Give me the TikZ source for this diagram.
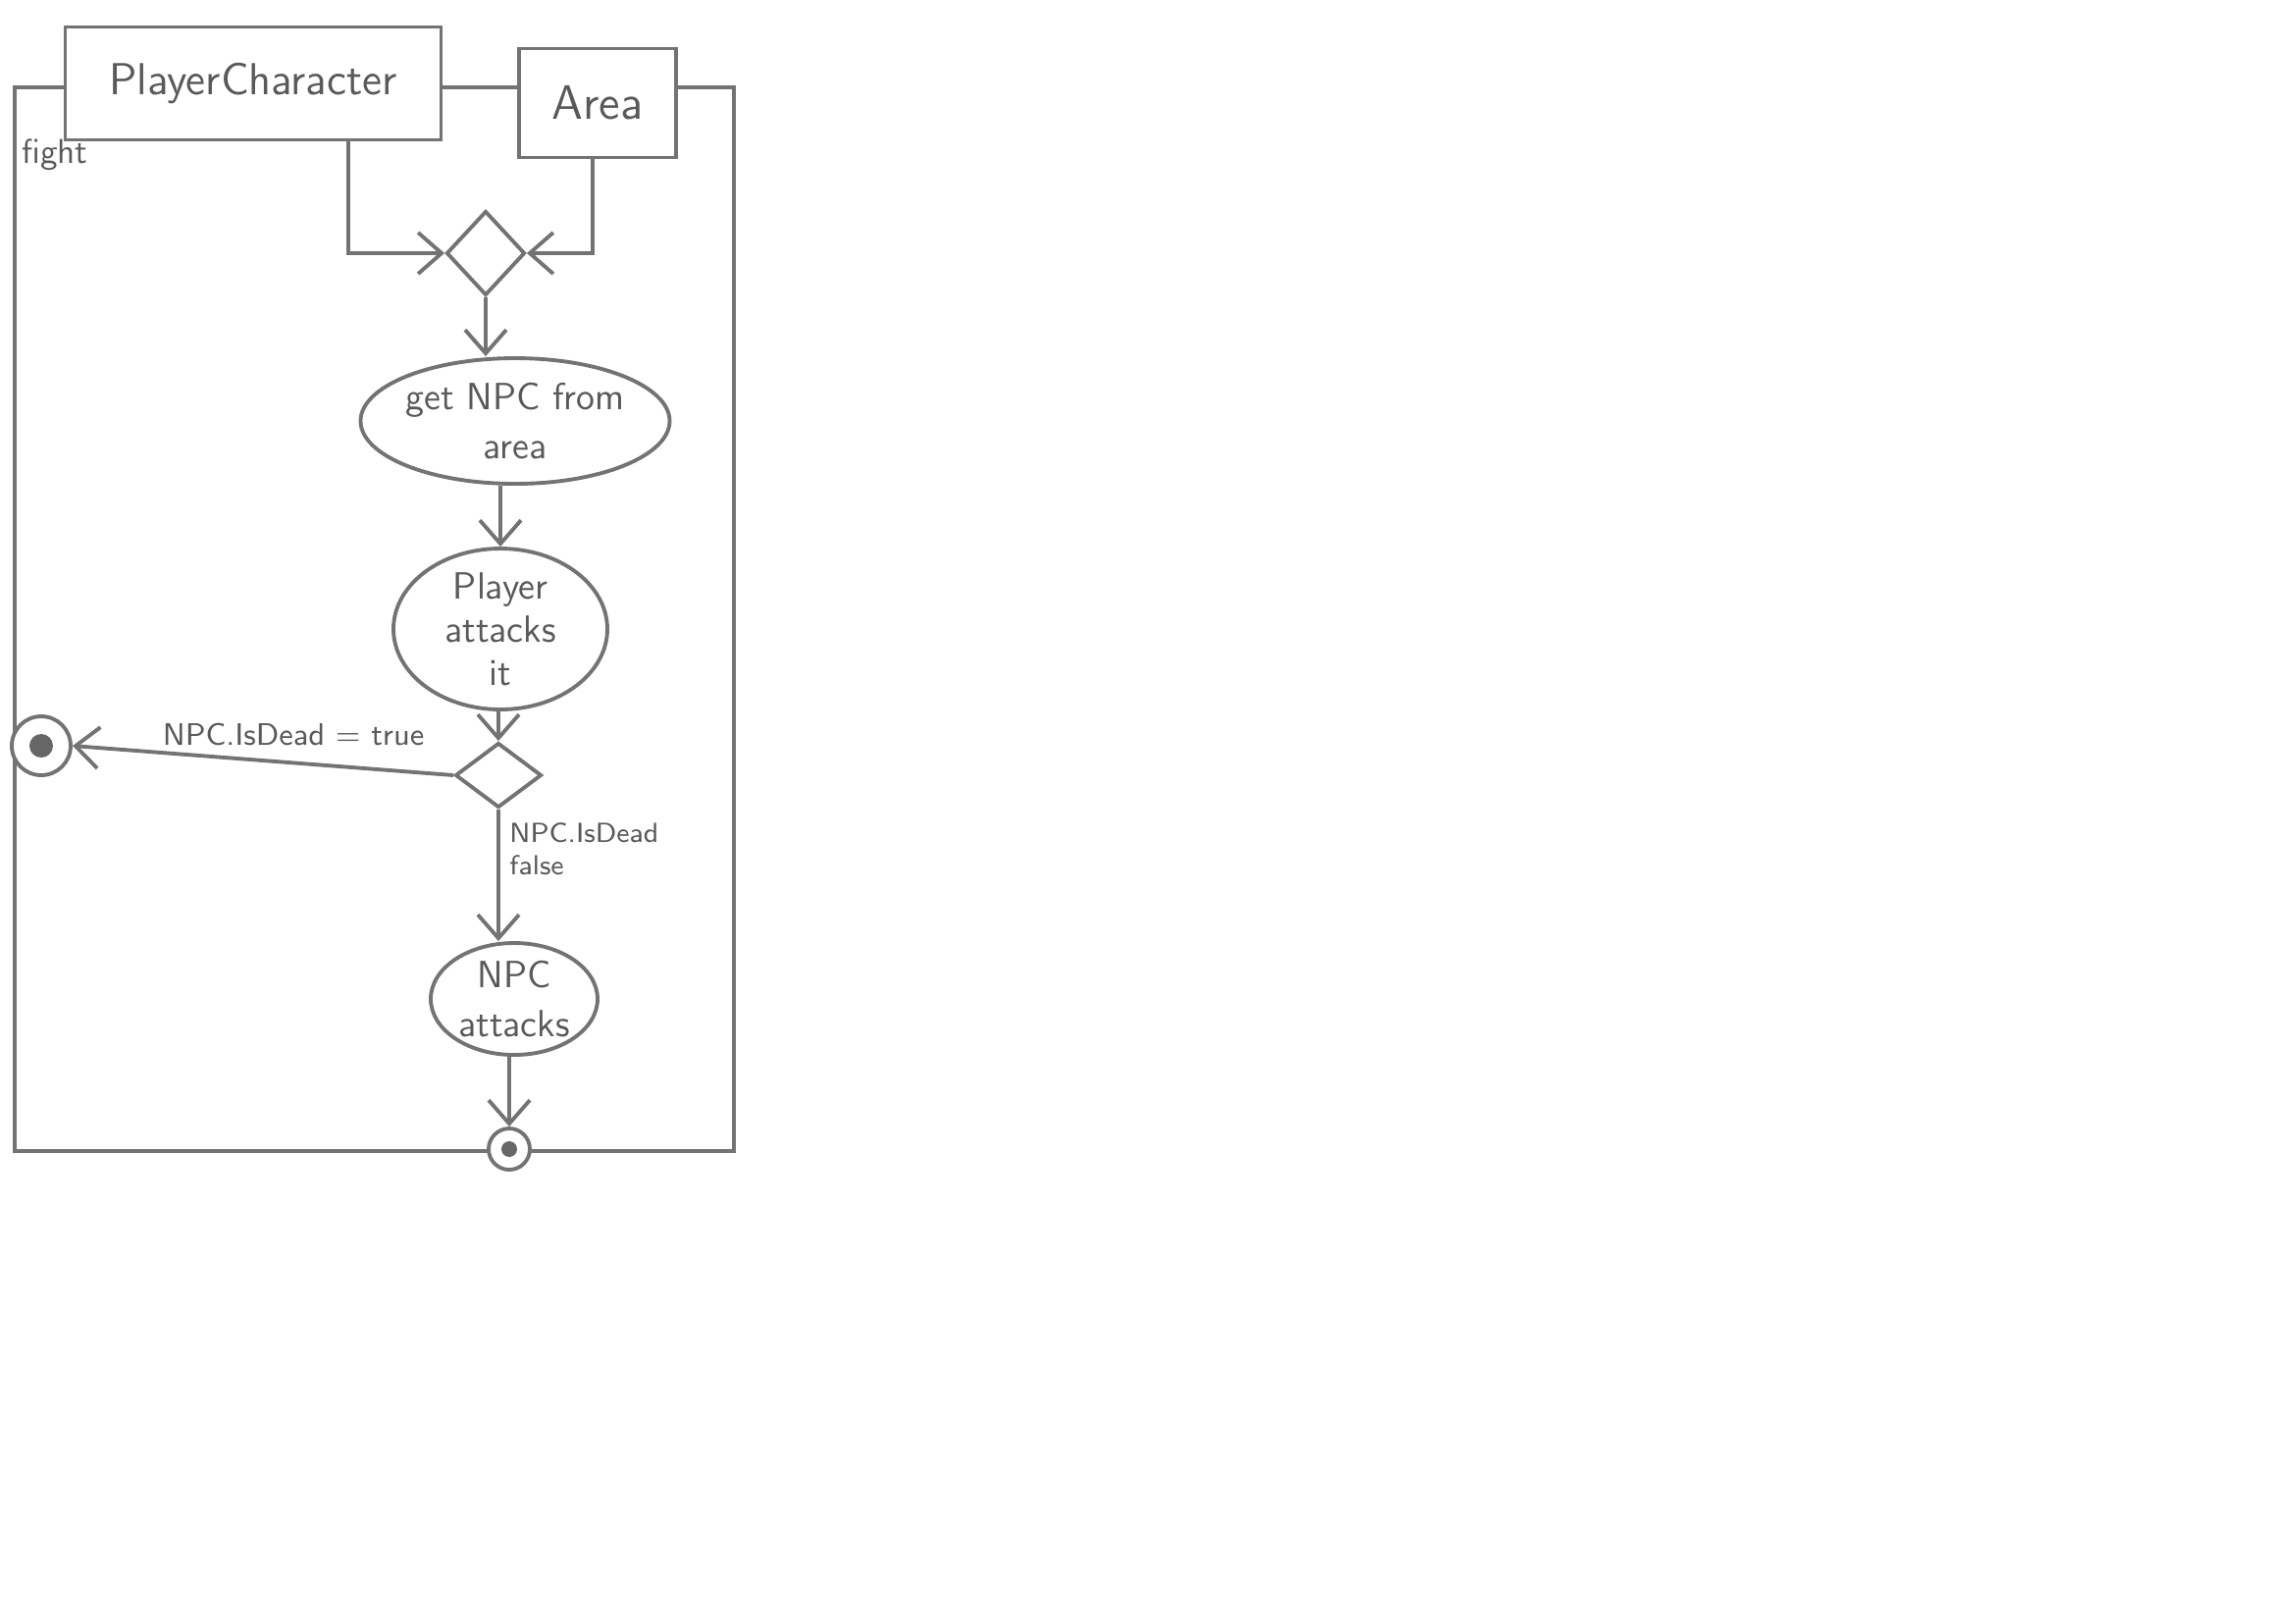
\documentclass[tikz,border=0pt]{standalone}
\usetikzlibrary{shapes.geometric,arrows.meta}
\begin{document}
\begin{tikzpicture}[x=0.1mm,y=-0.1mm,
  pencil/.style={draw=black!55,line width=1.1pt},
  txt/.style={text=black!65,font=\sffamily},
  objbox/.style={pencil,txt,fill=white,rectangle,inner sep=0pt},
  action/.style={pencil,txt,fill=white,ellipse,inner sep=0pt,align=center},
  choice/.style={pencil,fill=white,diamond,inner sep=0pt},
  finalnode/.style={pencil,fill=white,circle,inner sep=0pt},
  flow/.style={pencil,-{Straight Barb[length=2.4mm,width=4.2mm]}},
  guard/.style={txt,inner sep=1pt}]
\useasboundingbox (0,0) rectangle (2338,1654);
% frame of the activity
\node[pencil,rectangle,minimum width=73.3mm,minimum height=108.4mm,inner sep=0pt] (frame) at (381.5,631) {};
\node[txt,font=\sffamily\fontsize{10}{12}\selectfont] (fightlbl) at (56,158) {fight};
% objects
\node[objbox,minimum width=38.3mm,minimum height=11.5mm,font=\sffamily\fontsize{13}{15}\selectfont] (pc) at (258,85) {PlayerCharacter};
\node[objbox,minimum width=16mm,minimum height=11.1mm,font=\sffamily\fontsize{14}{16}\selectfont] (area) at (609,105) {Area};
% join
\node[choice,minimum width=8mm,minimum height=8.6mm] (join) at (495,258) {};
% actions
\node[action,minimum width=29.2mm,minimum height=12.8mm,font=\sffamily\fontsize{11}{14}\selectfont] (get) at (525,429) {get NPC from\\area};
\node[action,minimum width=21.8mm,minimum height=16.4mm,font=\sffamily\fontsize{11}{12.5}\selectfont] (patk) at (510,641) {Player\\attacks\\it};
\node[choice,minimum width=8.8mm,minimum height=6.6mm] (dec) at (508,790) {};
\node[action,minimum width=17mm,minimum height=11.4mm,font=\sffamily\fontsize{11}{14}\selectfont] (natk) at (524,1018) {NPC\\attacks};
% final nodes
\node[finalnode,minimum size=6mm] (fin1) at (42,760) {};
\fill[black!60] (fin1.center) circle (12);
\node[finalnode,minimum size=4.2mm] (fin2) at (519,1171) {};
\fill[black!60] (fin2.center) circle (8);
% connectors
\draw[flow] ([xshift=9.7mm]pc.south) |- (join.west);
\draw[flow] ([xshift=-0.5mm]area.south) |- (join.east);
\draw[flow] (join.south) -- (join.south |- get.north);
\draw[flow] (patk.north |- get.south) -- (patk.north);
\draw[flow] (patk.south -| dec.north) -- (dec.north);
\draw[flow] (dec.west) -- node[guard,pos=0.42,above=1.2mm,font=\sffamily\fontsize{9}{11}\selectfont] (lbltrue) {NPC.IsDead = true} (fin1.east);
\draw[flow] (dec.south) -- node[guard,pos=0.3,right=0.6mm,align=left,font=\sffamily\fontsize{8}{9.5}\selectfont] (lblfalse) {NPC.IsDead\\false} (dec.south |- natk.north);
\draw[flow] (natk.south -| fin2.north) -- (fin2.north);
\end{tikzpicture}
\end{document}
